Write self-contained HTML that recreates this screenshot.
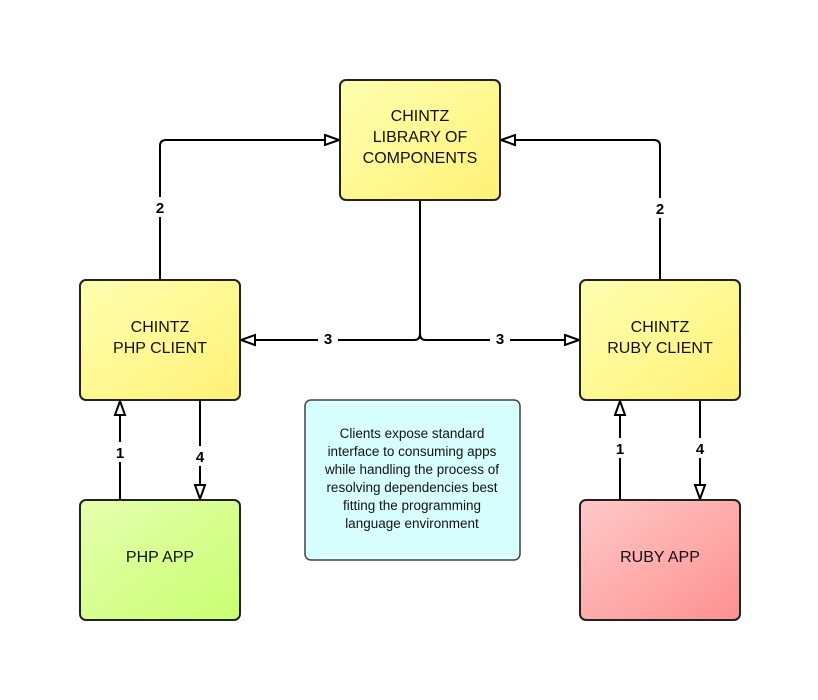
<!DOCTYPE html>
<html><head><style>body{margin:0;background:#fff}svg{display:block}</style></head><body>
<svg width="818" height="700" viewBox="0 0 818 700" xmlns="http://www.w3.org/2000/svg" font-family="Liberation Sans, sans-serif">
<defs>
<linearGradient id="y" x1="0" y1="0" x2="1" y2="1"><stop offset="0" stop-color="#ffffb0"/><stop offset="1" stop-color="#fff176"/></linearGradient>
<linearGradient id="g" x1="0" y1="0" x2="1" y2="1"><stop offset="0" stop-color="#e6ffb0"/><stop offset="1" stop-color="#c8ff70"/></linearGradient>
<linearGradient id="r" x1="0" y1="0" x2="1" y2="1"><stop offset="0" stop-color="#ffc8c8"/><stop offset="1" stop-color="#ff9090"/></linearGradient>
<marker id="a" markerWidth="18" markerHeight="14" refX="16" refY="7" orient="auto" markerUnits="userSpaceOnUse"><path d="M2,2 L16,7 L2,12 Z" fill="#fff" stroke="#000" stroke-width="2"/></marker>
</defs>
<g fill="none" stroke="#000" stroke-width="2">
<path d="M160,280 V146 Q160,140 166,140 H339" marker-end="url(#a)"/>
<path d="M660,280 V146 Q660,140 654,140 H501" marker-end="url(#a)"/>
<path d="M420,200 V334 Q420,340 414,340 H241" marker-end="url(#a)"/>
<path d="M420,200 V334 Q420,340 426,340 H579" marker-end="url(#a)"/>
<path d="M120,500 V401" marker-end="url(#a)"/>
<path d="M200,400 V499" marker-end="url(#a)"/>
<path d="M620,500 V401" marker-end="url(#a)"/>
<path d="M700,400 V499" marker-end="url(#a)"/>
</g>
<g stroke="#222" stroke-width="2">
<rect x="340" y="80" width="160" height="120" rx="6" fill="url(#y)"/>
<rect x="80" y="280" width="160" height="120" rx="6" fill="url(#y)"/>
<rect x="580" y="280" width="160" height="120" rx="6" fill="url(#y)"/>
<rect x="80" y="500" width="160" height="120" rx="6" fill="url(#g)"/>
<rect x="580" y="500" width="160" height="120" rx="6" fill="url(#r)"/>
</g>
<rect x="305" y="400" width="215" height="160" rx="6" fill="#d8ffff" stroke="#444" stroke-width="1.5"/>
<g fill="#fff">
<rect x="150" y="197" width="20" height="20"/><rect x="650" y="198" width="20" height="20"/>
<rect x="318" y="330" width="20" height="18"/><rect x="490" y="330" width="20" height="18"/>
<rect x="110" y="442" width="20" height="20"/><rect x="190" y="446" width="20" height="20"/>
<rect x="610" y="438" width="20" height="20"/><rect x="690" y="438" width="20" height="20"/>
</g>
<g font-weight="bold" font-size="15" text-anchor="middle">
<text x="160" y="213">2</text><text x="660" y="214">2</text>
<text x="328" y="344">3</text><text x="500" y="344">3</text>
<text x="120" y="458">1</text><text x="200" y="462">4</text>
<text x="620" y="454">1</text><text x="700" y="454">4</text>
</g>
<g font-size="16" text-anchor="middle" fill="#111">
<text x="420" y="121">CHINTZ</text><text x="420" y="142">LIBRARY OF</text><text x="420" y="163">COMPONENTS</text>
<text x="160" y="332">CHINTZ</text><text x="160" y="353">PHP CLIENT</text>
<text x="660" y="332">CHINTZ</text><text x="660" y="353">RUBY CLIENT</text>
<text x="160" y="562">PHP APP</text><text x="660" y="562">RUBY APP</text>
</g>
<g font-size="13.5" text-anchor="middle" fill="#111">
<text x="412" y="438">Clients expose standard</text>
<text x="412" y="456">interface to consuming apps</text>
<text x="412" y="474">while handling the process of</text>
<text x="412" y="492">resolving dependencies best</text>
<text x="412" y="510">fitting the programming</text>
<text x="412" y="528">language environment</text>
</g>
</svg>
</body></html>
